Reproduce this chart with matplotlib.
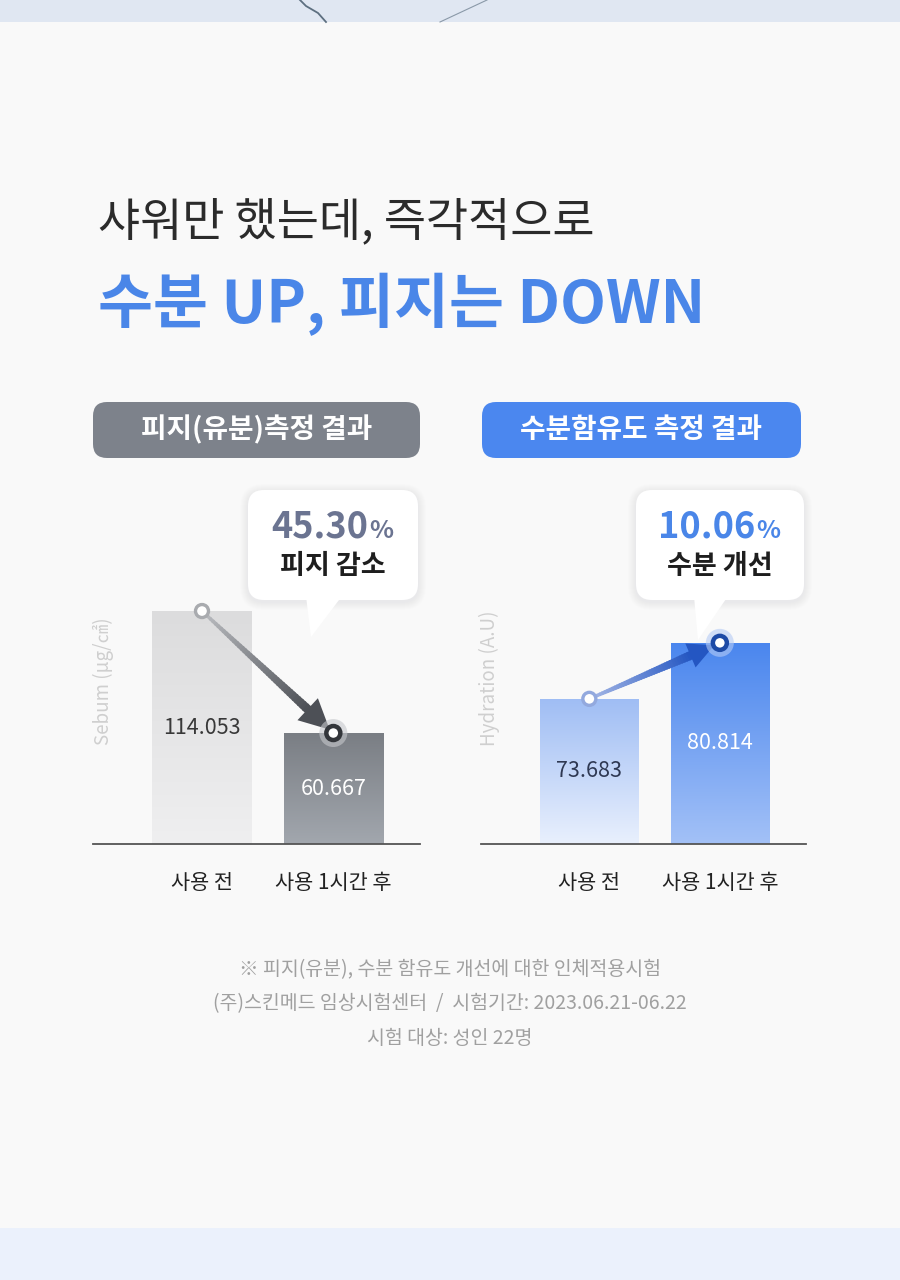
import numpy as np
import matplotlib.pyplot as plt
from matplotlib.patches import FancyBboxPatch, Polygon, Circle, Rectangle
from matplotlib.collections import PolyCollection
from matplotlib.colors import LinearSegmentedColormap, to_rgb

plt.rcParams['font.family'] = ['Noto Sans CJK KR', 'DejaVu Sans']

# ---- data ----
groups = ['사용 전', '사용 1시간 후']
sebum = [114.053, 60.667]
hydration = [73.683, 80.814]
sebum_change = '45.30'
hydration_change = '10.06'
sebum_caption = '피지 감소'
hydration_caption = '수분 개선'
badge_titles = ['피지(유분)측정 결과', '수분함유도 측정 결과']
y_titles = ['Sebum (µg/㎠)', 'Hydration (A.U)']
title_1 = '샤워만 했는데, 즉각적으로'
title_2 = '수분 UP, 피지는 DOWN'
notes = ['※ 피지(유분), 수분 함유도 개선에 대한 인체적용시험',
         '(주)스킨메드 임상시험센터  /  시험기간: 2023.06.21-06.22',
         '시험 대상: 성인 22명']

W, H = 900, 1280
BLUE = '#4a86e8'

fig = plt.figure(figsize=(W / 100, H / 100), dpi=100)
fig.patch.set_facecolor('#f9f9f9')


def px_axes(x0, y0, x1, y1, z):
    a = fig.add_axes([x0 / W, (H - y1) / H, (x1 - x0) / W, (y1 - y0) / H], zorder=z)
    return a


bg = px_axes(0, 0, W, H, 0)
bg.set_xlim(0, W)
bg.set_ylim(H, 0)
bg.axis('off')

top = px_axes(0, 0, W, H, 5)
top.set_xlim(0, W)
top.set_ylim(H, 0)
top.axis('off')
top.patch.set_alpha(0)

# background strips
bg.add_patch(Rectangle((0, 0), W, 22, fc='#e0e7f2', ec='none'))
bg.plot([300, 306, 318, 326], [0, 6, 13, 22], color='#5d6f80', lw=1.3)
bg.plot([487, 440], [0, 22], color='#8a99a8', lw=0.8)
bg.add_patch(Rectangle((0, 1228), W, 52, fc='#ebf1fc', ec='none'))

# titles
bg.text(98, 222, title_1, fontsize=33, color='#2b2b2b', va='center', ha='left')
bg.text(98, 304, title_2, fontsize=43, color=BLUE, fontweight='bold', va='center', ha='left')

# badges
for (x0, x1), col, txt in zip([(93, 420), (482, 801)], ['#7d828b', '#4b87ef'], badge_titles):
    bg.add_patch(FancyBboxPatch((x0, 402), x1 - x0, 56, boxstyle='round,pad=0,rounding_size=14',
                                fc=col, ec='none'))
    bg.text((x0 + x1) / 2, 430, txt, fontsize=20, color='white', fontweight='bold',
            ha='center', va='center')

# axis titles (rotated)
bg.text(103, 681, y_titles[0], rotation=90, fontsize=13.5, color='#cfcfcf', ha='center', va='center')
bg.text(489, 678, y_titles[1], rotation=90, fontsize=13.5, color='#cfcfcf', ha='center', va='center')

# footnotes
for y, line in zip([970, 1004, 1039], notes):
    bg.text(450, y, line, fontsize=14, color='#a0a0a0', ha='center', va='center')


# ---- bar charts ----
def bar_chart(x0, x1, values, ylim, colors, label_colors):
    ax = px_axes(x0, 480, x1, 844, 2)
    ax.patch.set_alpha(0)
    xs = np.arange(len(values))
    bars = ax.bar(xs, values, width=0.756, color='none', edgecolor='none')
    grad = np.linspace(0, 1, 256).reshape(-1, 1)
    for b, (c_top, c_bot) in zip(bars, colors):
        cmap = LinearSegmentedColormap.from_list('g', [c_bot, c_top])
        im = ax.imshow(grad, cmap=cmap, origin='lower', aspect='auto', zorder=2,
                       extent=[b.get_x(), b.get_x() + b.get_width(), ylim[0], b.get_height()])
        im.set_clip_path(b)
    ax.set_xlim(-0.83, 1.66)
    ax.set_ylim(*ylim)
    for xi, v, lc in zip(xs, values, label_colors):
        ax.text(xi, (ylim[0] + v) / 2, f'{v:.3f}', ha='center', va='center', fontsize=15.5,
                fontweight='medium', color=lc, zorder=3)
    for s in ['top', 'right', 'left']:
        ax.spines[s].set_visible(False)
    ax.spines['bottom'].set_color('#555555')
    ax.spines['bottom'].set_linewidth(1.3)
    ax.set_yticks([])
    ax.set_xticks(xs)
    ax.set_xticklabels(groups, fontsize=15, color='#222222', fontweight='medium')
    ax.tick_params(axis='x', length=0, pad=20)
    return ax


ax1 = bar_chart(93, 420, sebum, (12.1, 171.4),
                [('#dcdcdd', '#efeff0'), ('#7a7e84', '#a2a7ae')],
                ['#383838', 'white'])
ax2 = bar_chart(481, 806, hydration, (55.2, 101.55),
                [('#9fbdf4', '#e9f0fd'), ('#4a86ee', '#a3c1f7')],
                ['#2e3852', 'white'])


def to_px(ax, x, y):
    d = ax.transData.transform((x, y))
    return top.transData.inverted().transform(d)


# ---- callouts ----
def callout(x0, x1, y0, y1, tail):
    for i in range(8, 0, -1):
        top.add_patch(FancyBboxPatch((x0 - i, y0 - i + 2), x1 - x0 + 2 * i, y1 - y0 + 2 * i,
                                     boxstyle=f'round,pad=0,rounding_size={16 + i}',
                                     fc='#8a8f99', ec='none', alpha=0.012))
    top.add_patch(FancyBboxPatch((x0, y0), x1 - x0, y1 - y0, boxstyle='round,pad=0,rounding_size=16',
                                 fc='white', ec='none'))
    top.add_patch(Polygon(tail, closed=True, fc='white', ec='none'))


callout(248, 418, 490, 600, [(306, 596), (342, 596), (311, 637)])
callout(636, 804, 490, 600, [(694, 596), (728, 596), (698, 640)])

for cx, num, cap, ncol in [(333, sebum_change, sebum_caption, '#6b7491'),
                           (720, hydration_change, hydration_caption, BLUE)]:
    top.text(cx + 35, 538, num, ha='right', va='baseline', fontsize=26, fontweight='bold', color=ncol)
    top.text(cx + 36, 538, '%', ha='left', va='baseline', fontsize=18, fontweight='bold', color=ncol)
    top.text(cx, 566, cap, ha='center', va='center', fontsize=19.5, fontweight='bold', color='#1e1e1e')


# ---- arrows ----
def arrow(p0, p1, c0, c1, trim, w0, w1, hl, hw):
    p0, p1 = np.array(p0), np.array(p1)
    u = (p1 - p0) / np.linalg.norm(p1 - p0)
    n = np.array([-u[1], u[0]])
    tip = p1 - u * trim
    base = tip - u * hl
    c0, c1 = np.array(to_rgb(c0)), np.array(to_rgb(c1))
    N = 40
    polys, cols = [], []
    for i in range(N):
        t0, t1 = i / N, (i + 1) / N
        a, b = p0 + (base - p0) * t0, p0 + (base - p0) * (t1 + 0.01)
        wa, wb = w0 + (w1 - w0) * t0, w0 + (w1 - w0) * t1
        polys.append([a + n * wa / 2, b + n * wb / 2, b - n * wb / 2, a - n * wa / 2])
        cols.append(c0 + (c1 - c0) * (t0 + t1) / 2)
    top.add_collection(PolyCollection(polys, facecolors=cols, edgecolors='none'))
    top.add_patch(Polygon([tip, base + n * hw / 2, base - n * hw / 2], closed=True, fc=c1, ec='none'))


def markers(p0, p1, ring0, ring1, halo):
    top.add_patch(Circle(p0, 6.5, fc='white', ec=ring0, lw=2.4, zorder=6))
    top.add_patch(Circle(p1, 14, fc=halo, ec='none', alpha=0.6, zorder=6))
    top.add_patch(Circle(p1, 7, fc='white', ec=ring1, lw=3.2, zorder=7))


s0, s1 = to_px(ax1, 0, sebum[0]), to_px(ax1, 1, sebum[1])
arrow(s0, s1, '#bcbec2', '#4d5056', 5, 3, 9, 30, 30)
markers(s0, s1, '#a9abaf', '#33363b', '#c6c8cc')

h0, h1 = to_px(ax2, 0, hydration[0]), to_px(ax2, 1, hydration[1])
arrow(h0, h1, '#a7b9e6', '#2456c2', 6, 3, 9, 26, 26)
markers(h0, h1, '#93a9de', '#1d4aa6', '#b5cbf5')

fig.savefig('out.png', dpi=100, facecolor=fig.get_facecolor())
